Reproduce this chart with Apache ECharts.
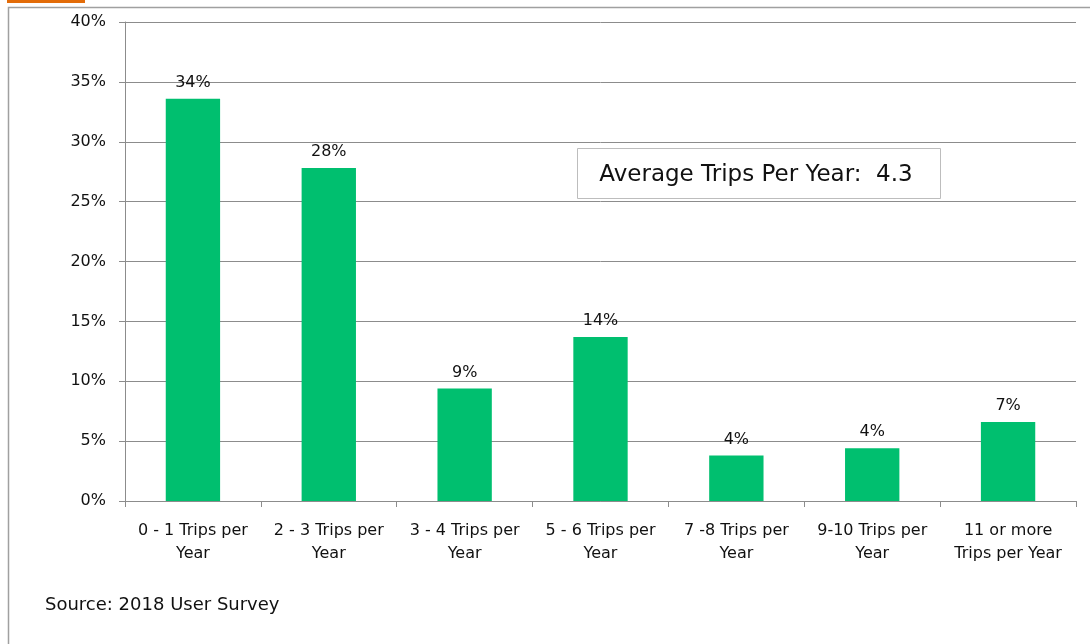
<!DOCTYPE html>
<html>
<head>
<meta charset="utf-8">
<script src="https://cdn.jsdelivr.net/npm/echarts@6/dist/echarts.min.js"></script>
<style>
html,body{margin:0;padding:0;background:#fff;}
#chart{width:1090px;height:644px;}
</style>
</head>
<body>
<div id="chart"></div>
<script>
const categories = ["0 - 1 Trips per\nYear", "2 - 3 Trips per\nYear", "3 - 4 Trips per\nYear", "5 - 6 Trips per\nYear", "7 -8 Trips per\nYear", "9-10 Trips per\nYear", "11 or more\nTrips per Year"];
const values = [33.6, 27.8, 9.4, 13.7, 3.8, 4.4, 6.6];
const yTicks = [0, 5, 10, 15, 20, 25, 30, 35, 40];
const noteText = "Average Trips Per Year:  4.3";
const sourceText = "Source: 2018 User Survey";

const font = "'DejaVu Sans', 'Liberation Sans', sans-serif";
const chart = echarts.init(document.getElementById('chart'));
chart.setOption({
  animation: false,
  grid: {left: 125, right: 14, top: 22, bottom: 143, containLabel: false},
  xAxis: {
    type: 'category',
    data: categories,
    boundaryGap: true,
    axisLine: {lineStyle: {color: '#8c8c8c', width: 1}},
    axisTick: {show: true, length: 6, alignWithLabel: false, lineStyle: {color: '#8c8c8c'}},
    axisLabel: {color: '#111', fontFamily: font, fontSize: 16, lineHeight: 23, margin: 18, interval: 0}
  },
  yAxis: {
    type: 'value',
    min: 0, max: 40, interval: 5,
    axisLine: {show: true, lineStyle: {color: '#8c8c8c', width: 1}},
    axisTick: {show: true, length: 6, lineStyle: {color: '#8c8c8c'}},
    splitLine: {lineStyle: {color: '#8c8c8c', width: 1}},
    axisLabel: {color: '#111', fontFamily: font, fontSize: 16, margin: 19,
      formatter: v => yTicks.includes(v) ? v + '%' : ''}
  },
  series: [{
    type: 'bar',
    data: values,
    barWidth: '40%',
    itemStyle: {color: '#00BF6F'},
    label: {show: true, position: 'top', distance: 8, color: '#111', fontFamily: font, fontSize: 16,
      formatter: p => Math.round(p.value) + '%'}
  }],
  graphic: [
    {type: 'rect', shape: {x: 8.5, y: 7.5, width: 1100, height: 700}, style: {fill: 'none', stroke: '#a0a0a0', lineWidth: 1.5}, z: -1},
    {type: 'rect', shape: {x: 7, y: 0, width: 78, height: 3}, style: {fill: '#E36C09'}},
    {type: 'rect', shape: {x: 577.5, y: 148.5, width: 363, height: 50}, style: {fill: '#fff', stroke: '#bdbdbd', lineWidth: 1}, z: 10},
    {type: 'text', x: 756, y: 175, style: {text: noteText, fill: '#111', font: "23px " + font, align: 'center', verticalAlign: 'middle'}, z: 11},
    {type: 'text', x: 45, y: 605, style: {text: sourceText, fill: '#111', font: "18px " + font, align: 'left', verticalAlign: 'middle'}}
  ]
});
</script>
</body>
</html>
